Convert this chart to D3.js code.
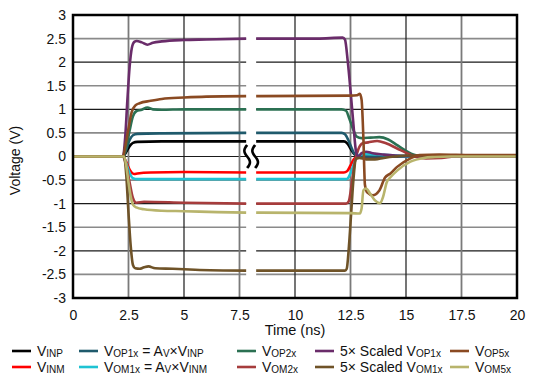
<!DOCTYPE html>
<html><head><meta charset="utf-8">
<script src="https://cdn.jsdelivr.net/npm/d3@7"></script>
<style>
body{margin:0;background:#fff}
text{font-family:"Liberation Sans",Arial,sans-serif;fill:#111}
</style>
</head><body>
<svg id="chart" width="541" height="378"></svg>
<script>
// ---------------- data ----------------
const xTicks = [0, 2.5, 5, 7.5, 10, 12.5, 15, 17.5, 20];
const yTicks = [-3, -2.5, -2, -1.5, -1, -0.5, 0, 0.5, 1, 1.5, 2, 2.5, 3];
const breakStart = 7.8, breakEnd = 8.25;
const GAP = [8, null];

const vInp = [[0,0],[2.25,0],[2.4,0.1],[2.55,0.22],[2.7,0.29],[2.9,0.31],[4,0.32],[6,0.32],[7.8,0.32],GAP,
  [8.25,0.32],[10,0.32],[12.2,0.32],[12.35,0.28],[12.5,0.17],[12.65,0.06],[12.8,0.01],[13,0],[20,0]];
const vInm = [[0,0],[2.25,0],[2.4,-0.12],[2.55,-0.28],[2.75,-0.37],[2.9,-0.36],[3.5,-0.34],[5,-0.33],[7.8,-0.34],GAP,
  [8.25,-0.34],[12.2,-0.34],[12.35,-0.31],[12.5,-0.19],[12.65,-0.06],[12.8,0],[20,0]];
const vOp1x = [[0,0],[2.25,0],[2.4,0.15],[2.55,0.35],[2.7,0.45],[2.9,0.48],[4,0.49],[7.8,0.5],GAP,
  [8.25,0.5],[12.1,0.5],[12.25,0.47],[12.4,0.35],[12.55,0.18],[12.7,0.04],[12.9,0],[20,0]];
const vOm1x = [[0,0],[2.25,0],[2.4,-0.15],[2.55,-0.35],[2.7,-0.46],[2.9,-0.48],[7.8,-0.48],GAP,
  [8.25,-0.48],[12.3,-0.48],[12.4,-0.45],[12.55,-0.3],[12.7,-0.1],[12.85,0.02],[13.2,0.05],[13.8,0.04],[14.5,0.02],[15.5,0],[20,0]];
const vOp2x = [[0,0],[2.25,0],[2.4,0.2],[2.55,0.55],[2.7,0.85],[2.85,0.96],[3.1,0.99],[3.35,1.04],[3.6,1.0],[4,0.99],[5,1.0],[7.8,1.0],GAP,
  [8.25,1.0],[12.1,1.0],[12.3,0.97],[12.45,0.8],[12.6,0.6],[12.78,0.42],[13,0.39],[13.4,0.4],[13.8,0.41],[14.2,0.36],[14.6,0.24],[15.0,0.12],[15.4,0.03],[15.7,0],[20,0]];
const vOm2x = [[0,0],[2.25,0],[2.4,-0.2],[2.55,-0.55],[2.7,-0.88],[2.85,-0.98],[3.2,-0.96],[5,-0.98],[7.8,-1.0],GAP,
  [8.25,-1.0],[12.3,-1.0],[12.42,-0.95],[12.55,-0.6],[12.7,-0.1],[12.85,0.15],[13.05,0.28],[13.3,0.3],[13.7,0.33],[14.1,0.28],[14.6,0.17],[15.0,0.08],[15.4,0.0],[15.9,-0.04],[16.6,-0.03],[17.2,0],[20,0]];
const vOp1x5 = [[0,0],[2.25,0],[2.35,0.4],[2.45,1.2],[2.55,1.9],[2.65,2.3],[2.76,2.43],[2.87,2.45],[3.1,2.42],[3.35,2.37],[3.6,2.41],[4,2.44],[5,2.47],[6,2.48],[7.8,2.5],GAP,
  [8.25,2.5],[11,2.5],[12.15,2.52],[12.25,2.48],[12.38,2.0],[12.5,1.4],[12.62,0.75],[12.75,0.1],[12.85,0.0],[13.0,0.07],[13.2,0.1],[13.5,0.07],[14,0.04],[15,0.01],[20,0]];
const vOm1x5 = [[0,0],[2.3,0],[2.4,-0.4],[2.5,-1.2],[2.6,-1.9],[2.7,-2.3],[2.8,-2.37],[3.0,-2.38],[3.2,-2.35],[3.4,-2.33],[3.7,-2.37],[4.5,-2.38],[5.5,-2.4],[7.8,-2.42],GAP,
  [8.25,-2.42],[12.25,-2.42],[12.33,-2.38],[12.43,-1.9],[12.53,-1.2],[12.63,-0.5],[12.75,-0.05],[12.9,-0.03],[13.2,-0.06],[13.6,-0.06],[14,-0.03],[14.5,0.0],[15,0.02],[20,0.01]];
const vOp5x = [[0,0],[2.25,0],[2.35,0.2],[2.5,0.6],[2.65,0.95],[2.8,1.08],[3.0,1.13],[3.5,1.18],[4,1.22],[5,1.25],[6,1.27],[7.8,1.28],GAP,
  [8.25,1.28],[12.5,1.29],[12.8,1.3],[12.92,1.33],[13.0,1.2],[13.08,0.4],[13.15,-0.6],[13.25,-0.76],[13.5,-0.82],[13.8,-0.72],[14.05,-0.45],[14.3,-0.36],[14.6,-0.22],[15.2,-0.04],[15.6,0.03],[16.5,0.04],[18,0.03],[20,0.03]];
const vOm5x = [[0,0],[2.3,0],[2.4,-0.2],[2.5,-0.55],[2.6,-0.85],[2.7,-1.02],[2.85,-1.08],[3.2,-1.12],[4,-1.15],[5,-1.16],[6.5,-1.18],[7.8,-1.19],GAP,
  [8.25,-1.19],[12.5,-1.2],[12.92,-1.21],[13.0,-1.1],[13.08,-0.72],[13.2,-0.68],[13.4,-0.8],[13.6,-0.93],[13.83,-0.99],[13.97,-0.85],[14.13,-0.55],[14.3,-0.44],[14.6,-0.3],[15.2,-0.11],[15.8,-0.03],[16.3,-0.01],[17,0],[20,0]];

const seriesData = [vInp, vInm, vOp1x, vOm1x, vOp2x, vOm2x, vOp1x5, vOm1x5, vOp5x, vOm5x];
const seriesLabels = ["V_{INP}", "V_{INM}", "V_{OP1x} = A_{V}×V_{INP}", "V_{OM1x} = A_{V}×V_{INM}",
  "V_{OP2x}", "V_{OM2x}", "5× Scaled V_{OP1x}", "5× Scaled V_{OM1x}", "V_{OP5x}", "V_{OM5x}"];
// ---------------- styles / layout ----------------
const seriesColors = ["#000000", "#ff0000", "#1f5a6c", "#1ec3d3", "#2b7052", "#a63c3c", "#6a2c6a", "#6f5328", "#8a4a22", "#b8b46c"];
const legendCols = [12, 79, 237, 315, 450];
const legendRows = [351, 367];

const svg = d3.select("#chart");
const L = 73, R = 517, T = 15, B = 298;
const x = d3.scaleLinear().domain([0, 20]).range([L, R]);
const y = d3.scaleLinear().domain([-3, 3]).range([B, T]);

// grid
const g = svg.append("g");
const segs = [[0, breakStart], [breakEnd, 20]];
yTicks.filter(v => v > -3 && v < 3).forEach(v => {
  const integer = Number.isInteger(v);
  segs.forEach(s => {
    g.append("line").attr("x1", x(s[0])).attr("x2", x(s[1])).attr("y1", y(v)).attr("y2", y(v))
      .attr("stroke", integer ? "#1a1a1a" : "#8a8a8a").attr("stroke-width", integer ? 1.2 : 1.6);
  });
});
xTicks.filter(v => v > 0 && v < 20).forEach(v => {
  const major = v % 5 === 0;
  g.append("line").attr("x1", x(v)).attr("x2", x(v)).attr("y1", T).attr("y2", B)
    .attr("stroke", major ? "#1a1a1a" : "#7a7a7a").attr("stroke-width", major ? 1.2 : 1.8);
});

// traces
const line = d3.line().defined(d => d[1] !== null).x(d => x(d[0])).y(d => y(d[1])).curve(d3.curveMonotoneX);
seriesData.forEach((d, i) => {
  svg.append("path").datum(d).attr("d", line).attr("fill", "none")
    .attr("stroke", seriesColors[i]).attr("stroke-width", 2.6).attr("stroke-linejoin", "round");
});

// break squiggle
const wave = d3.line().curve(d3.curveBasis);
const mid = (x(breakStart) + x(breakEnd)) / 2;
[-4, 4].forEach(off => {
  const pts = d3.range(0, 1.0001, 0.1).map(s => [mid + off - 3 * Math.sin(2 * Math.PI * s), y(0) - 11.5 + 23 * s]);
  svg.append("path").attr("d", wave(pts)).attr("fill", "none").attr("stroke", "#000").attr("stroke-width", 2.6);
});

// frame
svg.append("rect").attr("x", L).attr("y", T).attr("width", R - L).attr("height", B - T)
  .attr("fill", "none").attr("stroke", "#000").attr("stroke-width", 2.5);

// axes
const xAxis = svg.append("g").attr("transform", `translate(0,${B})`)
  .call(d3.axisBottom(x).tickValues(xTicks).tickSize(0).tickPadding(12).tickFormat(d => String(d)));
xAxis.select(".domain").remove();
xAxis.selectAll("text").attr("font-size", 14).style("font-family", '"Liberation Sans",Arial,sans-serif').attr("fill", "#111");
const yAxis = svg.append("g").attr("transform", `translate(${L},0)`)
  .call(d3.axisLeft(y).tickValues(yTicks).tickSize(0).tickPadding(7).tickFormat(d => String(d)));
yAxis.select(".domain").remove();
yAxis.selectAll("text").attr("font-size", 14).style("font-family", '"Liberation Sans",Arial,sans-serif').attr("fill", "#111");

svg.append("text").attr("x", x(10)).attr("y", 335).attr("text-anchor", "middle").attr("font-size", 14.5).text("Time (ns)");
svg.append("text").attr("transform", `translate(20,${(T + B) / 2 + 4}) rotate(-90)`).attr("text-anchor", "middle")
  .attr("font-size", 14).text("Voltage (V)");

// legend
function richText(sel, label, size, subSize) {
  const parts = label.split(/(_\{[^}]*\})/).filter(p => p.length);
  let shifted = false;
  parts.forEach(p => {
    if (p.startsWith("_{")) {
      sel.append("tspan").attr("font-size", subSize).attr("dy", shifted ? 0 : 1).text(p.slice(2, -1));
      shifted = true;
    } else {
      sel.append("tspan").attr("font-size", size).attr("dy", shifted ? -1 : 0).text(p);
      shifted = false;
    }
  });
}
seriesLabels.forEach((lab, i) => {
  const col = Math.floor(i / 2), row = i % 2;
  const lx = legendCols[col], ly = legendRows[row];
  svg.append("line").attr("x1", lx).attr("x2", lx + 19).attr("y1", ly).attr("y2", ly)
    .attr("stroke", seriesColors[i]).attr("stroke-width", 2.6);
  const t = svg.append("text").attr("x", lx + 25).attr("y", ly + 5).attr("font-size", 14);
  richText(t, lab, 14, 10);
});
</script>
</body></html>
